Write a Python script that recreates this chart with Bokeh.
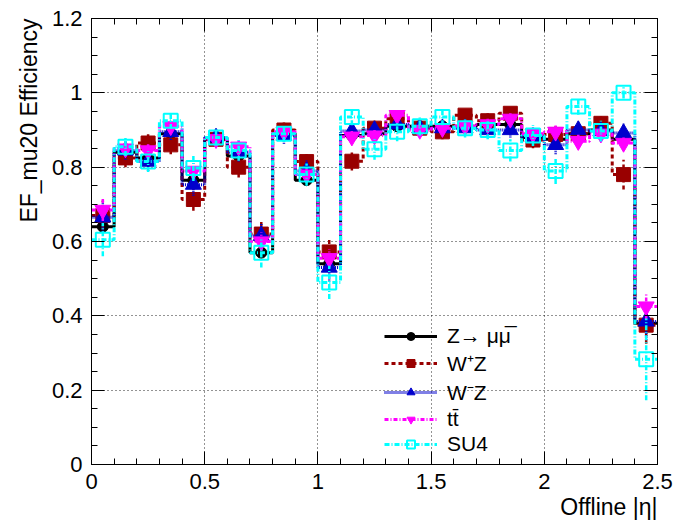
import math
from bokeh.plotting import figure
from bokeh.models import (FixedTicker, CustomJSTickFormatter, LinearAxis, Range1d,
                          Legend, LegendItem, Title)
from bokeh.embed import file_html
from bokeh.resources import INLINE

# ---------------- data ----------------
bin_edges = [0.0, 0.1, 0.2, 0.3, 0.4, 0.5, 0.6, 0.7, 0.8, 0.9, 1.0, 1.1, 1.2,
             1.3, 1.4, 1.5, 1.6, 1.7, 1.8, 1.9, 2.0, 2.1, 2.2, 2.3, 2.4, 2.5]
bin_centers = [0.05, 0.15, 0.25, 0.35, 0.45, 0.55, 0.65, 0.75, 0.85, 0.95, 1.05,
               1.15, 1.25, 1.35, 1.45, 1.55, 1.65, 1.75, 1.85, 1.95, 2.05, 2.15,
               2.25, 2.35, 2.45]

z_mumu = [0.640, 0.840, 0.825, 0.890, 0.765, 0.875, 0.830, 0.570, 0.890, 0.765,
          0.540, 0.885, 0.890, 0.910, 0.910, 0.910, 0.910, 0.915, 0.915, 0.880,
          0.875, 0.890, 0.900, 0.875, 0.380]
z_err = [0.015, 0.008, 0.008, 0.008, 0.010, 0.008, 0.008, 0.012, 0.008, 0.010,
         0.012, 0.008, 0.008, 0.007, 0.007, 0.007, 0.007, 0.007, 0.007, 0.008,
         0.008, 0.008, 0.008, 0.010, 0.020]

wplus_z = [0.670, 0.825, 0.865, 0.860, 0.713, 0.875, 0.800, 0.620, 0.900, 0.815,
           0.572, 0.816, 0.905, 0.930, 0.905, 0.895, 0.940, 0.925, 0.945, 0.873,
           0.888, 0.890, 0.918, 0.780, 0.375]
wplus_err = [0.040, 0.025, 0.025, 0.025, 0.030, 0.020, 0.028, 0.035, 0.020, 0.028,
             0.035, 0.025, 0.020, 0.018, 0.020, 0.020, 0.018, 0.020, 0.018, 0.022,
             0.022, 0.022, 0.020, 0.040, 0.050]

wminus_z = [0.665, 0.845, 0.815, 0.895, 0.753, 0.880, 0.840, 0.615, 0.885, 0.790,
            0.530, 0.897, 0.900, 0.915, 0.905, 0.905, 0.905, 0.900, 0.900, 0.882,
            0.860, 0.900, 0.897, 0.892, 0.385]
wminus_err = [0.040, 0.025, 0.025, 0.022, 0.030, 0.022, 0.025, 0.035, 0.022, 0.028,
              0.035, 0.022, 0.020, 0.018, 0.020, 0.020, 0.020, 0.020, 0.020, 0.022,
              0.025, 0.022, 0.022, 0.025, 0.050]

ttbar = [0.685, 0.850, 0.845, 0.910, 0.790, 0.875, 0.855, 0.600, 0.895, 0.780,
         0.555, 0.882, 0.885, 0.940, 0.900, 0.905, 0.910, 0.915, 0.930, 0.890,
         0.895, 0.870, 0.890, 0.865, 0.425]
ttbar_err = [0.030, 0.018, 0.018, 0.015, 0.022, 0.015, 0.018, 0.025, 0.015, 0.020,
             0.025, 0.015, 0.015, 0.013, 0.015, 0.015, 0.015, 0.015, 0.015, 0.018,
             0.018, 0.018, 0.018, 0.020, 0.035]

su4 = [0.605, 0.855, 0.815, 0.925, 0.798, 0.880, 0.845, 0.570, 0.890, 0.780,
       0.490, 0.935, 0.848, 0.895, 0.910, 0.935, 0.905, 0.900, 0.845, 0.885,
       0.790, 0.963, 0.897, 1.000, 0.283]
su4_err = [0.045, 0.025, 0.028, 0.022, 0.035, 0.022, 0.028, 0.040, 0.022, 0.030,
           0.045, 0.022, 0.028, 0.025, 0.025, 0.022, 0.025, 0.025, 0.030, 0.028,
           0.035, 0.022, 0.028, 0.015, 0.110]

labels = ["Z\u2192 \u03bc\u03bc\u0305", "W\u207aZ", "W\u207bZ", "tt\u0304", "SU4"]

x_ticks = [0, 0.5, 1, 1.5, 2, 2.5]
x_minor = [0.1, 0.2, 0.3, 0.4, 0.6, 0.7, 0.8, 0.9, 1.1, 1.2, 1.3, 1.4, 1.6, 1.7,
           1.8, 1.9, 2.1, 2.2, 2.3, 2.4]
y_ticks = [0, 0.2, 0.4, 0.6, 0.8, 1, 1.2]
y_minor = [0.05, 0.1, 0.15, 0.25, 0.3, 0.35, 0.45, 0.5, 0.55, 0.65, 0.7, 0.75,
           0.85, 0.9, 0.95, 1.05, 1.1, 1.15]

x_title = "Offline |\u03b7|"
y_title = "EF_mu20 Efficiency"

# ---------------- figure ----------------
FONT = "Liberation Sans"
p = figure(width=677, height=525, x_range=Range1d(0, 2.5), y_range=Range1d(0, 1.2),
           output_backend="svg", toolbar_location=None,
           min_border_left=91, min_border_right=20, min_border_top=18,
           min_border_bottom=61, background_fill_color="white",
           border_fill_color="white")
p.outline_line_color = "black"
p.outline_line_width = 1

xt = FixedTicker(ticks=x_ticks, minor_ticks=x_minor)
yt = FixedTicker(ticks=y_ticks, minor_ticks=y_minor)
fmt = CustomJSTickFormatter(code="return tick.toString();")
blank = CustomJSTickFormatter(code="return '';")

for ax in p.xaxis:
    ax.ticker = xt
    ax.formatter = fmt
for ax in p.yaxis:
    ax.ticker = yt
    ax.formatter = fmt

for ax in list(p.xaxis) + list(p.yaxis):
    ax.major_tick_in = 13
    ax.major_tick_out = 0
    ax.minor_tick_in = 6
    ax.minor_tick_out = 0
    ax.major_label_text_font = FONT
    ax.major_label_text_font_size = "22px"
    ax.major_label_text_color = "black"
    ax.axis_line_color = "black"
    ax.major_tick_line_color = "black"
    ax.minor_tick_line_color = "black"
p.xaxis.major_label_standoff = 9
p.yaxis.major_label_standoff = 9

top_ax = LinearAxis(ticker=xt, formatter=blank, major_tick_in=13, major_tick_out=0,
                    minor_tick_in=6, minor_tick_out=0, major_label_standoff=0)
right_ax = LinearAxis(ticker=yt, formatter=blank, major_tick_in=13, major_tick_out=0,
                      minor_tick_in=6, minor_tick_out=0, major_label_standoff=0)
p.add_layout(top_ax, "above")
p.add_layout(right_ax, "right")

p.xgrid.ticker = xt
p.ygrid.ticker = yt
for g in (p.xgrid, p.ygrid):
    g.grid_line_color = "black"
    g.grid_line_dash = "1 3"
    g.grid_line_width = 1
    g.grid_line_alpha = 0.85

# ---------------- series ----------------
series = [
    (z_mumu, z_err, "black", "solid", "circle", 11, "black"),
    (wplus_z, wplus_err, "#990000", "4 3", "square", 14, "#990000"),
    (wminus_z, wminus_err, "#0000cc", "1 1", "triangle", 16, "#0000cc"),
    (ttbar, ttbar_err, "#ff00ff", "4 2 1 2", "inverted_triangle", 16, "#ff00ff"),
    (su4, su4_err, "#00ffff", "5 2 1 2", "square", 14, None),
]

items = []
for (vals, errs, col, dash, marker, size, fill), lab in zip(series, labels):
    step_y = list(vals) + [vals[-1]]
    r_line = p.step(x=bin_edges, y=step_y, mode="after", line_color=col,
                    line_width=3, line_dash=dash)
    lo = [v - e for v, e in zip(vals, errs)]
    hi = [v + e for v, e in zip(vals, errs)]
    p.segment(x0=bin_centers, y0=lo, x1=bin_centers, y1=hi, line_color=col,
              line_width=2.5, line_dash=dash)
    r_pts = p.scatter(x=bin_centers, y=vals, marker=marker, size=size,
                      fill_color=fill, line_color=col,
                      line_width=2 if fill is None else 1)
    items.append(LegendItem(label=lab, renderers=[r_line, r_pts]))

legend = Legend(items=items, location=(293, 8), label_text_font=FONT,
                label_text_font_size="21px", label_text_color="black",
                glyph_width=53, glyph_height=20, spacing=1, padding=0, margin=0,
                label_standoff=10, border_line_alpha=0, background_fill_alpha=0,
                label_height=20)
p.add_layout(legend)

# ---------------- axis titles (ROOT style, at the axis end) ----------------
xt_title = Title(text=x_title, align="right", text_font=FONT, text_font_size="23px",
                 text_font_style="normal", text_color="black", standoff=0, offset=0)
yt_title = Title(text=y_title, align="right", text_font=FONT, text_font_size="23px",
                 text_font_style="normal", text_color="black", standoff=14, offset=0)
p.add_layout(xt_title, "below")
p.add_layout(yt_title, "left")

open("out.html", "w").write(file_html(p, INLINE))
